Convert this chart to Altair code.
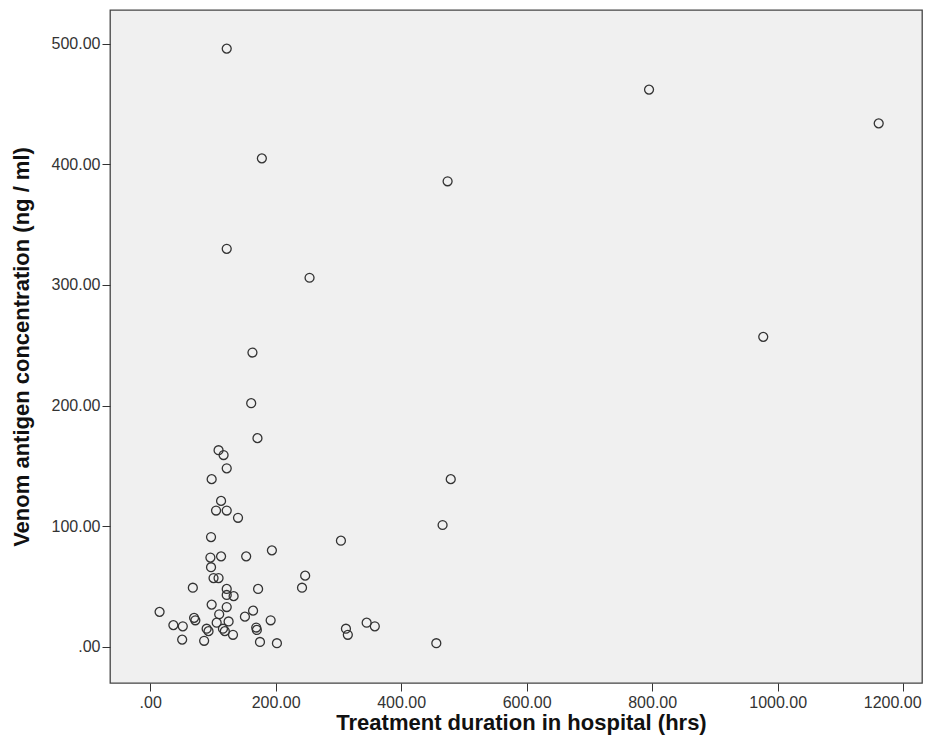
import altair as alt
import pandas as pd

# Treatment duration in hospital (hrs)
duration_hrs = [
    122, 178, 122, 254, 795, 1161, 474, 977, 163, 161, 171,
    109, 117, 122, 98, 113, 105, 122, 140, 97, 194, 153, 96, 113,
    97, 101, 109, 68, 122, 172, 122, 133, 98, 122, 164, 110, 15,
    151, 192, 37, 52, 70, 72, 90, 93, 106, 125, 116, 119, 132,
    169, 170, 51, 86, 175, 202, 479, 466, 304, 247, 242, 312, 315,
    345, 358, 456,
]
# Venom antigen concentration (ng / ml)
venom_ngml = [
    496, 405, 330, 306, 462, 434, 386, 257, 244, 202, 173,
    163, 159, 148, 139, 121, 113, 113, 107, 91, 80, 75, 74, 75,
    66, 57, 57, 49, 48, 48, 43, 42, 35, 33, 30, 27, 29,
    25, 22, 18, 17, 24, 22, 15, 13, 20, 21, 15, 13, 10,
    16, 14, 6, 5, 4, 3, 139, 101, 88, 59, 49, 15, 10,
    20, 17, 3,
]
x_ticks = [0, 200, 400, 600, 800, 1000, 1200]
y_ticks = [0, 100, 200, 300, 400, 500]

df = pd.DataFrame({"duration": duration_hrs, "venom": venom_ngml})

label_expr = "datum.value == 0 ? '.00' : format(datum.value, '.2f')"
W, H = 812, 673

chart = alt.Chart(df).mark_point(
    shape="circle", filled=False, size=80, strokeWidth=1.3,
    color="#333333", opacity=1
).encode(
    x=alt.X("duration:Q",
            title="Treatment duration in hospital (hrs)",
            scale=alt.Scale(domain=[-64, 1230], nice=False, zero=False),
            axis=alt.Axis(values=x_ticks, labelExpr=label_expr, grid=False,
                          domain=False, tickSize=8, tickColor="#333333",
                          labelPadding=3, labelFontSize=16, labelFont="Liberation Sans",
                          labelColor="#333333", titleFont="Liberation Sans",
                          labelOffset={"condition": {"test": "datum.value === 1200", "value": -11}, "value": 0},
                          titleFontSize=22, titleFontWeight="bold", titleColor="#111111",
                          titleX=411, titleY=46, titleBaseline="alphabetic",
                          titleAlign="center")),
    y=alt.Y("venom:Q",
            title="Venom antigen concentration (ng / ml)",
            scale=alt.Scale(domain=[-30, 528], nice=False, zero=False),
            axis=alt.Axis(values=y_ticks, labelExpr=label_expr, grid=False,
                          domain=False, tickSize=8, tickColor="#333333",
                          labelPadding=2, labelFontSize=16, labelFont="Liberation Sans",
                          labelColor="#333333", titleFont="Liberation Sans",
                          titleFontSize=22, titleFontWeight="bold", titleColor="#111111",
                          titleX=-82, titleY=H / 2, titleAngle=-90,
                          titleBaseline="alphabetic", titleAlign="center")),
).properties(
    width=W, height=H,
    autosize=alt.AutoSizeParams(type="none"),
    padding={"left": 102, "top": 2, "right": 1, "bottom": 60},
).configure(
    background="white",
    view=alt.ViewConfig(fill="#f0f0f0", stroke="#444444", strokeWidth=1.3),
)

chart.save("out.html", embed_options={"renderer": "svg", "actions": False})
